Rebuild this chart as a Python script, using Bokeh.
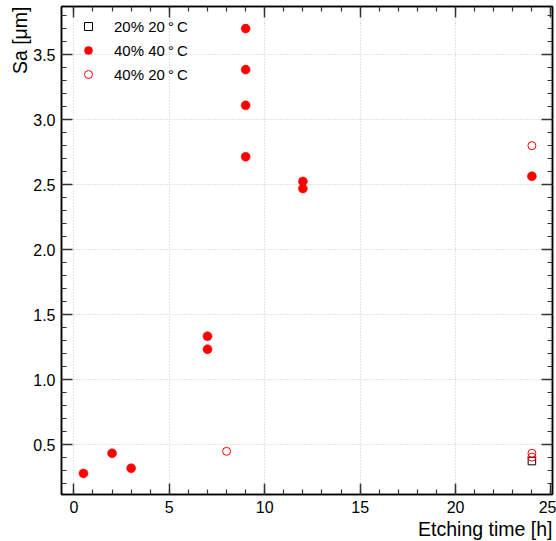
from bokeh.plotting import figure
from bokeh.models import (Range1d, SingleIntervalTicker, LinearAxis, Legend, LegendItem,
                          Grid, Title, CustomJSTickFormatter, NumeralTickFormatter)
from bokeh.embed import file_html
from bokeh.resources import INLINE

# ---- data ----
t_20_20 = [24]
sa_20_20 = [0.375]

t_40_40 = [0.5, 2, 3, 7, 7, 9, 9, 9, 9, 12, 12, 24]
sa_40_40 = [0.28, 0.435, 0.32, 1.335, 1.235, 3.70, 3.385, 3.11, 2.715, 2.525, 2.47, 2.565]

t_40_20 = [8, 24, 24, 24]
sa_40_20 = [0.45, 2.80, 0.435, 0.405]

labels = ["20% 20\u2009°\u2009C", "40% 40\u2009°\u2009C", "40% 20\u2009°\u2009C"]
x_title = "Etching time [h]"
y_title = "Sa [μm]"

FONT = "Liberation Sans"

p = figure(width=556, height=541, output_backend="svg", toolbar_location=None,
           x_range=Range1d(-0.65, 25.08), y_range=Range1d(0.118, 3.87),
           x_axis_type=None, y_axis_type=None,
           min_border_left=61, min_border_right=4, min_border_top=6, min_border_bottom=47)
p.outline_line_color = "black"
p.outline_line_width = 1.5
p.background_fill_color = "white"
p.border_fill_color = "white"

xt = SingleIntervalTicker(interval=5, num_minor_ticks=5)
yt = SingleIntervalTicker(interval=0.5, num_minor_ticks=5)

blank = CustomJSTickFormatter(code="return '';")

def style(ax, show_labels):
    ax.major_tick_in = 11
    ax.major_tick_out = 0
    ax.minor_tick_in = 5
    ax.minor_tick_out = 0
    ax.major_tick_line_color = "#333333"
    ax.minor_tick_line_color = "#333333"
    ax.major_tick_line_width = 1.5
    ax.minor_tick_line_width = 1.2
    ax.axis_line_color = "black"
    ax.axis_line_width = 1.5
    if show_labels:
        ax.major_label_text_font = FONT
        ax.major_label_text_font_size = "16px"
        ax.major_label_text_color = "black"
        ax.major_label_standoff = 6
    else:
        ax.formatter = blank
        ax.major_label_standoff = 0

xb = LinearAxis(ticker=xt); style(xb, True); p.add_layout(xb, "below")
xa = LinearAxis(ticker=xt); style(xa, False); p.add_layout(xa, "above")
yl = LinearAxis(ticker=yt, formatter=NumeralTickFormatter(format="0.0")); style(yl, True); p.add_layout(yl, "left")
yr = LinearAxis(ticker=yt); style(yr, False); p.add_layout(yr, "right")

gx = Grid(dimension=0, ticker=xt, grid_line_color="#c8c8c8", grid_line_dash="1 2", grid_line_width=1)
gy = Grid(dimension=1, ticker=yt, grid_line_color="#c8c8c8", grid_line_dash="1 2", grid_line_width=1)
p.add_layout(gx)
p.add_layout(gy)

r1 = p.scatter(t_20_20, sa_20_20, marker="square", size=7.5, fill_color=None, line_color="black", line_width=1)
r2 = p.scatter(t_40_40, sa_40_40, marker="circle", size=9, fill_color="red", line_color="red", line_width=0.5)
r3 = p.scatter(t_40_20, sa_40_20, marker="circle", size=8, fill_color=None, line_color="red", line_width=1)

legend = Legend(items=[LegendItem(label=labels[0], renderers=[r1]),
                       LegendItem(label=labels[1], renderers=[r2]),
                       LegendItem(label=labels[2], renderers=[r3])],
                location="top_left")
legend.border_line_color = None
legend.background_fill_alpha = 0
legend.margin = 10
legend.padding = 0
legend.glyph_width = 34
legend.glyph_height = 20
legend.label_height = 20
legend.spacing = 4
legend.label_standoff = 9
legend.label_text_font = FONT
legend.label_text_font_size = "15px"
legend.label_text_color = "black"
p.add_layout(legend)

tx = Title(text=x_title, align="right", text_font=FONT, text_font_size="19.5px",
           text_font_style="normal", text_color="black", standoff=0, offset=0)
ty = Title(text=y_title, align="right", text_font=FONT, text_font_size="19.5px",
           text_font_style="normal", text_color="black", standoff=0, offset=0)
p.add_layout(tx, "below")
p.add_layout(ty, "left")

open("out.html", "w").write(file_html(p, INLINE))
